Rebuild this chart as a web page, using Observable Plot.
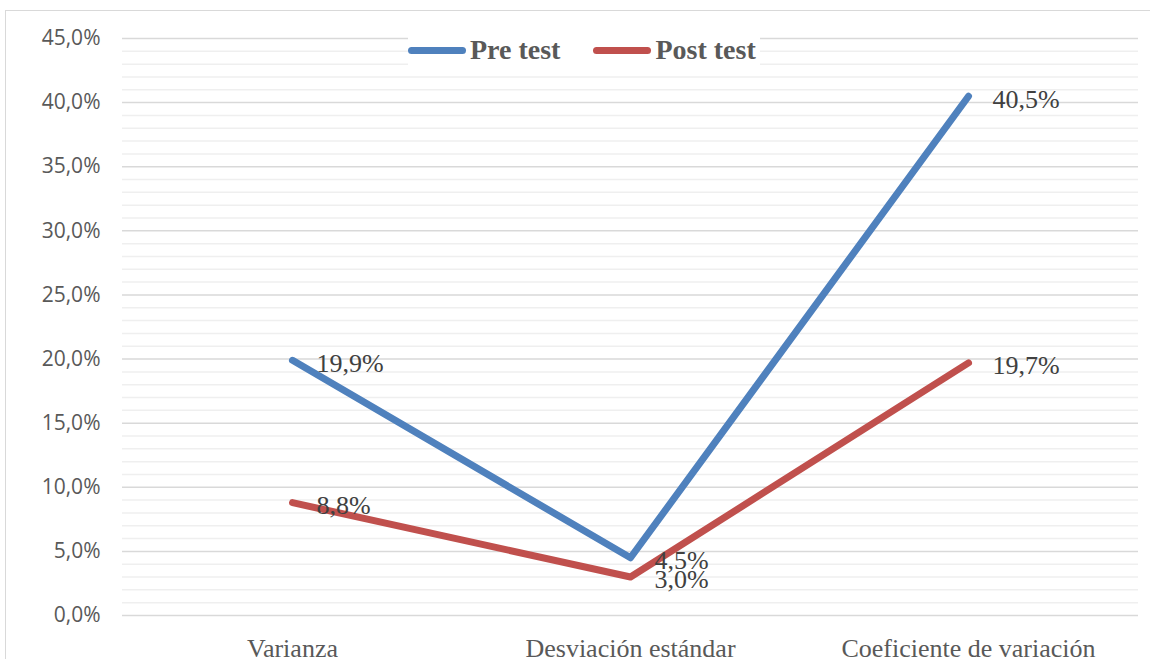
<!DOCTYPE html>
<html>
<head>
<meta charset="utf-8">
<script src="https://cdn.jsdelivr.net/npm/d3@7"></script>
<script src="https://cdn.jsdelivr.net/npm/@observablehq/plot@0.6"></script>
<style>
  html, body { margin: 0; padding: 0; background: #fff; }
  #wrap { position: relative; width: 1150px; height: 659px; overflow: hidden; }
  #border { position: absolute; left: 5px; top: 10px; width: 1200px; height: 700px; border: 1.5px solid #d9d9d9; box-sizing: border-box; }
  #chart { position: absolute; left: 0; top: 0; }
  #legend { position: absolute; left: 408px; top: 35px; height: 30px; display: flex; align-items: center;
    font-family: "Liberation Serif", "Times New Roman", serif; font-weight: bold; font-size: 28px; color: #595959; background: #fff; padding-right: 4px; }
  .item { display: flex; align-items: center; }
  .swatch { display: inline-block; width: 58px; height: 7px; border-radius: 4px; margin-right: 4px; }
</style>
</head>
<body>
<div id="wrap">
  <div id="border"></div>
  <div id="chart"></div>
  <div id="legend"></div>
</div>
<script>
const categories = ["Varianza", "Desviación estándar", "Coeficiente de variación"];
const seriesNames = ["Pre test", "Post test"];
const preTest = [19.9, 4.5, 40.5];
const postTest = [8.8, 3.0, 19.7];
const seriesColors = ["#4F81BD", "#C0504D"];
const majorTicks = [0, 5, 10, 15, 20, 25, 30, 35, 40, 45];
const minorTicks = d3.range(0, 46, 1).filter(v => v % 5 !== 0);

const data = [];
categories.forEach((c, i) => {
  data.push({cat: c, series: seriesNames[0], value: preTest[i]});
  data.push({cat: c, series: seriesNames[1], value: postTest[i]});
});

const fmt = v => v.toFixed(1).replace(".", ",") + "%";

const chart = Plot.plot({
  width: 1150,
  height: 659,
  marginLeft: 122,
  marginRight: 12,
  marginTop: 38,
  marginBottom: 44,
  style: {background: "transparent", overflow: "visible"},
  x: {type: "point", domain: categories, padding: 0.5},
  y: {domain: [0, 45]},
  color: {domain: seriesNames, range: seriesColors},
  marks: [
    Plot.ruleY(minorTicks, {stroke: "#efefef", strokeWidth: 1.5}),
    Plot.ruleY(majorTicks, {stroke: "#d9d9d9", strokeWidth: 1.5}),
    Plot.axisY(majorTicks, {tickSize: 0, tickPadding: 22, tickFormat: fmt, label: null,
      fontFamily: "'Open Sans', sans-serif", fontSize: 21, fill: "#595959"}),
    Plot.axisX({tickSize: 0, tickPadding: 23, label: null,
      fontFamily: "'Liberation Serif', 'Times New Roman', serif", fontSize: 26, fill: "#595959"}),
    Plot.line(data, {x: "cat", y: "value", z: "series", stroke: "series", strokeWidth: 7,
      strokeLinecap: "round", strokeLinejoin: "round"}),
    Plot.text(data, {x: "cat", y: "value", text: d => fmt(d.value), textAnchor: "start", dx: 24, dy: 3,
      fontFamily: "'Liberation Serif', 'Times New Roman', serif", fontSize: 26, fill: "#404040"})
  ]
});
document.getElementById("chart").appendChild(chart);

const legend = document.getElementById("legend");
seriesNames.forEach((name, i) => {
  const item = document.createElement("span");
  item.className = "item";
  item.style.marginRight = i === 0 ? "33px" : "0";
  const sw = document.createElement("span");
  sw.className = "swatch";
  sw.style.background = seriesColors[i];
  const label = document.createElement("span");
  label.textContent = name;
  item.appendChild(sw);
  item.appendChild(label);
  legend.appendChild(item);
});
</script>
</body>
</html>
